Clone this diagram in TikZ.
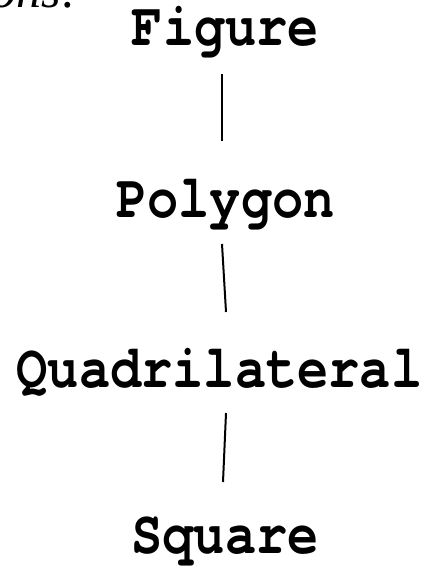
\documentclass[tikz,border=0pt]{standalone}
\usepackage{fontspec}
\usepackage{graphicx}
\newfontfamily\treefont{texgyrecursor}[Extension=.otf, UprightFont=*-regular, BoldFont=*-bold]
\newfontfamily\notefont{Liberation Serif}
\newcommand{\tallname}[1]{\scalebox{1}[1.18]{#1}}
\tikzset{
  classname/.style={anchor=base, inner sep=0pt, font=\treefont\bfseries\fontsize{52}{52}\selectfont},
  link/.style={line width=2pt}
}
\begin{document}
\begin{tikzpicture}[x=1pt,y=-1pt]
            \useasboundingbox (0,0) rectangle (435,568);
            \clip (0,0) rectangle (435,568);

            % Trailing words of the heading above
            \node [anchor=base east, inner sep=0pt, font=\notefont\itshape\fontsize{50}{50}\selectfont] (head) at (78,7) {ons:};

            % Marking class names
            \node [classname] (fig) at (225.5,45) {\tallname{Figure}};
            \node [classname] (poly) at (225.5,217) {\tallname{Polygon}};
            \node [classname] (quad) at (219.5,387) {\tallname{Quadrilateral}};
            \node [classname] (sq) at (225,553) {\tallname{Square}};

            % Drawing links between classes
            \draw [link] ([xshift=-3.5pt,yshift=-29pt]fig.base) -- ([xshift=-3.5pt,yshift=76pt]poly.base);
            \draw [link] ([xshift=-3.5pt,yshift=-27pt]poly.base) -- ([xshift=6.5pt,yshift=75pt]quad.base);
            \draw [link] ([xshift=6.5pt,yshift=-26pt]quad.base) -- ([xshift=-2pt,yshift=71pt]sq.base);
        \end{tikzpicture}
\end{document}
